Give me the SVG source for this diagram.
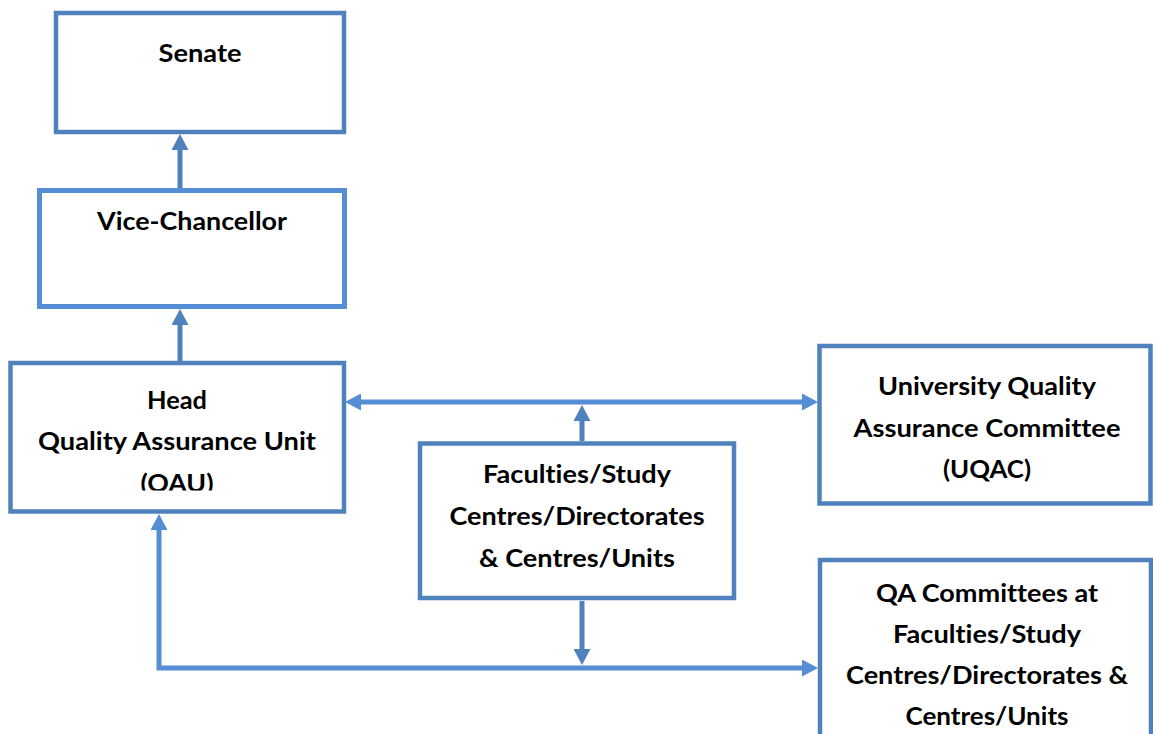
<svg xmlns="http://www.w3.org/2000/svg" width="1153" height="734" viewBox="0 0 1153 734">
<style>
.box{fill:#fff;stroke:#4f81bd;stroke-width:4.5}
.box2{fill:#fff;stroke:#558ed5;stroke-width:5}
.t{font-family:Lato,"Liberation Sans",sans-serif;font-weight:bold;font-size:25px;fill:#000;text-anchor:middle;font-variant-ligatures:none;font-feature-settings:"liga" 0}
.c{fill:none;stroke:#4f81bd;stroke-width:5;stroke-linejoin:miter}
.c2{fill:none;stroke:#558ed5;stroke-width:5;stroke-linejoin:miter}
</style>
<defs>
<marker id="ah" viewBox="0 0 16 17" refX="6" refY="8.5" markerWidth="16" markerHeight="17" markerUnits="userSpaceOnUse" orient="auto-start-reverse">
<path d="M0,0 L16,8.5 L0,17 z" fill="#4f81bd"/>
</marker>
<marker id="ah2" viewBox="0 0 16 17" refX="6" refY="8.5" markerWidth="16" markerHeight="17" markerUnits="userSpaceOnUse" orient="auto-start-reverse">
<path d="M0,0 L16,8.5 L0,17 z" fill="#558ed5"/>
</marker>
<clipPath id="clipHead"><rect x="0" y="360" width="360" height="130.5"/></clipPath>
</defs>
<rect width="1153" height="734" fill="#fff"/>
<g id="connectors">
<path class="c" d="M180,188 L180,144" marker-end="url(#ah)"/>
<path class="c" d="M180,361 L180,319" marker-end="url(#ah)"/>
<path class="c2" d="M355,402 L808,402" marker-start="url(#ah2)" marker-end="url(#ah2)"/>
<path class="c" d="M582,441 L582,415" marker-end="url(#ah)"/>
<path class="c" d="M582,601 L582,655" marker-end="url(#ah)"/>
<path class="c2" d="M159,524 L159,668 L808,668" marker-start="url(#ah2)" marker-end="url(#ah2)"/>
</g>
<g id="senate">
<rect class="box" x="56" y="13" width="288" height="119"/>
<text class="t" x="200" y="62" textLength="83" lengthAdjust="spacingAndGlyphs">Senate</text>
</g>
<g id="vice-chancellor">
<rect class="box2" x="39.5" y="190.5" width="305" height="116"/>
<text class="t" x="192" y="230" textLength="190" lengthAdjust="spacingAndGlyphs">Vice-Chancellor</text>
</g>
<g id="head-qau">
<rect class="box" x="10.5" y="363" width="333.5" height="148.5"/>
<text class="t" x="177" y="409" textLength="60" lengthAdjust="spacingAndGlyphs">Head</text>
<text class="t" x="177" y="450" textLength="278" lengthAdjust="spacingAndGlyphs">Quality Assurance Unit</text>
<text class="t" x="177" y="492" textLength="73" lengthAdjust="spacingAndGlyphs" clip-path="url(#clipHead)">(QAU)</text>
</g>
<g id="faculties">
<rect class="box" x="420" y="443.5" width="314" height="154.5"/>
<text class="t" x="577" y="483" textLength="188" lengthAdjust="spacingAndGlyphs">Faculties/Study</text>
<text class="t" x="577" y="525" textLength="255" lengthAdjust="spacingAndGlyphs">Centres/Directorates</text>
<text class="t" x="577" y="567" textLength="196" lengthAdjust="spacingAndGlyphs">&amp; Centres/Units</text>
</g>
<g id="uqac">
<rect class="box" x="819.5" y="346" width="331" height="157.5"/>
<text class="t" x="987" y="395" textLength="218" lengthAdjust="spacingAndGlyphs">University Quality</text>
<text class="t" x="987" y="437" textLength="267" lengthAdjust="spacingAndGlyphs">Assurance Committee</text>
<text class="t" x="987" y="478" textLength="88" lengthAdjust="spacingAndGlyphs">(UQAC)</text>
</g>
<g id="qa-committees">
<rect class="box" x="820" y="560" width="331" height="200"/>
<text class="t" x="987" y="602" textLength="222" lengthAdjust="spacingAndGlyphs">QA Committees at</text>
<text class="t" x="987" y="643" textLength="188" lengthAdjust="spacingAndGlyphs">Faculties/Study</text>
<text class="t" x="987" y="684" textLength="282" lengthAdjust="spacingAndGlyphs">Centres/Directorates &amp;</text>
<text class="t" x="987" y="725" textLength="163" lengthAdjust="spacingAndGlyphs">Centres/Units</text>
</g>
</svg>
